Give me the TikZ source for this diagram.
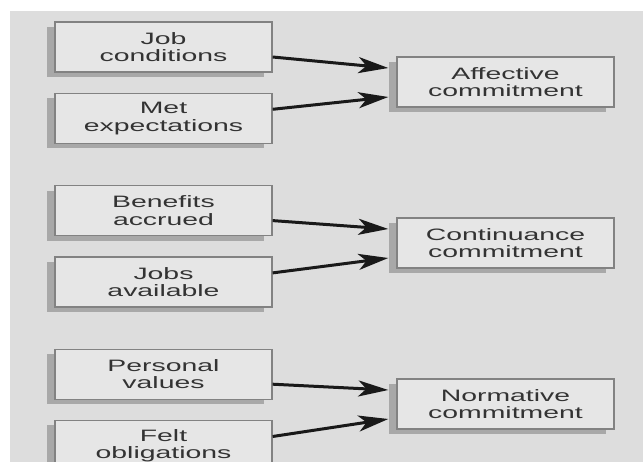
\documentclass[tikz,border=0pt]{standalone}
\usepackage{fontspec}
\newfontfamily\boxfont{Liberation Sans}[FakeStretch=1.72]
\usetikzlibrary{shapes,arrows,arrows.meta,positioning,calc,shadows}
\definecolor{panel}{RGB}{221,221,221}
\definecolor{boxfill}{RGB}{230,230,230}
\definecolor{boxline}{RGB}{130,130,130}
\definecolor{boxshade}{RGB}{168,168,168}
\definecolor{ink}{RGB}{51,51,51}
\tikzset{
  cbox/.style={draw=boxline, line width=1.3pt, fill=boxfill, minimum width=217pt, minimum height=50pt,
    inner sep=0pt, align=center, text=ink, font=\boxfont\fontsize{16.5}{17.5}\selectfont,
    drop shadow={shadow xshift=-8pt, shadow yshift=-5pt, fill=boxshade, opacity=1}},
  link/.style={line width=3pt, black!90, -{Stealth[length=30pt, width=16pt, inset=8pt]}}
}

\begin{document}
\begin{tikzpicture}[x=1pt, y=-1pt, node distance=20pt]
  \clip (0,0) rectangle (643,462);
  \fill[white] (0,0) rectangle (643,462);
  \fill[panel] (10,11) rectangle (643,462);

  % antecedents
  \node[cbox] (job) at (163.5,47) {Job\\conditions};
  \node[cbox, below=of job] (met) {Met\\expectations};
  \node[cbox, below=41pt of met] (ben) {Benefits\\accrued};
  \node[cbox, below=of ben] (avail) {Jobs\\available};
  \node[cbox, below=41pt of avail] (pers) {Personal\\values};
  \node[cbox, below=of pers] (felt) {Felt\\obligations};

  % commitment types
  \node[cbox] (aff) at (505.5,82) {Affective\\commitment};
  \node[cbox] (cont) at (505.5,243) {Continuance\\commitment};
  \node[cbox] (norm) at (505.5,404) {Normative\\commitment};

  \draw[link] ([yshift=-10pt]job.east) -- ([xshift=-8pt, yshift=14pt]aff.west);
  \draw[link] ([yshift=9pt]met.east) -- ([xshift=-8pt, yshift=-15pt]aff.west);
  \draw[link] ([yshift=-10pt]ben.east) -- ([xshift=-8pt, yshift=14pt]cont.west);
  \draw[link] ([yshift=9pt]avail.east) -- ([xshift=-8pt, yshift=-15pt]cont.west);
  \draw[link] ([yshift=-10pt]pers.east) -- ([xshift=-8pt, yshift=14pt]norm.west);
  \draw[link] ([yshift=9pt]felt.east) -- ([xshift=-8pt, yshift=-15pt]norm.west);
\end{tikzpicture}
\end{document}
